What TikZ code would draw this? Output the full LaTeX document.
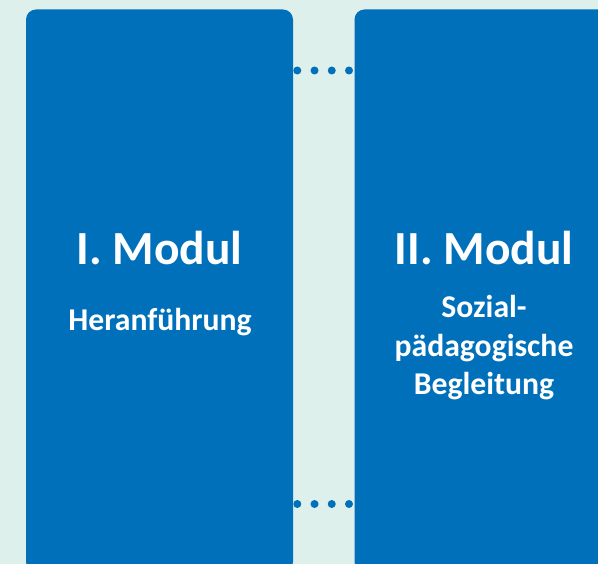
\documentclass[tikz,border=0pt]{standalone}
\usepackage{fontspec}
\setmainfont{Carlito}
\definecolor{modulblue}{HTML}{0070BA}
\definecolor{mintbg}{HTML}{DEF0EC}
\tikzset{
	modul/.style={fill=modulblue, rounded corners=10pt, inner sep=0pt},
	titel/.style={text=white, font=\fontsize{47.5}{57}\bfseries\selectfont, anchor=base},
	untertitel/.style={text=white, font=\fontsize{31.7}{38.6}\bfseries\selectfont, align=center, anchor=base},
	punkte/.style={modulblue, line width=8pt, line cap=round, dash pattern=on 0pt off 17.23pt}
}

\begin{document}
\begin{tikzpicture}[x=1pt, y=-1pt]
	\fill [mintbg] (0,0) rectangle (598,564);
	\useasboundingbox (0,0) rectangle (598,564);
	\path [modul] (26,9.5) rectangle (293,572);
	\path [modul] (354.5,9.5) rectangle (620,572);
	\node [titel] (t1) at (159.5,265) {I. Modul};
	\node [untertitel] (u1) at (160,331) {Heranführung};
	\node [titel] (t2) at (484,265) {II. Modul};
	% base sits on the last line
	\node [untertitel] (u2) at (484,395) {Sozial-\\pädagogische\\Begleitung};
	\coordinate (o1) at (297.3,70.5);
	\coordinate (o2) at (349,70.5);
	\coordinate (b1) at (297.3,504);
	\coordinate (b2) at (349,504);
	\draw [punkte] (o1) -- (o2);
	\draw [punkte] (b1) -- (b2);
\end{tikzpicture}
\end{document}
